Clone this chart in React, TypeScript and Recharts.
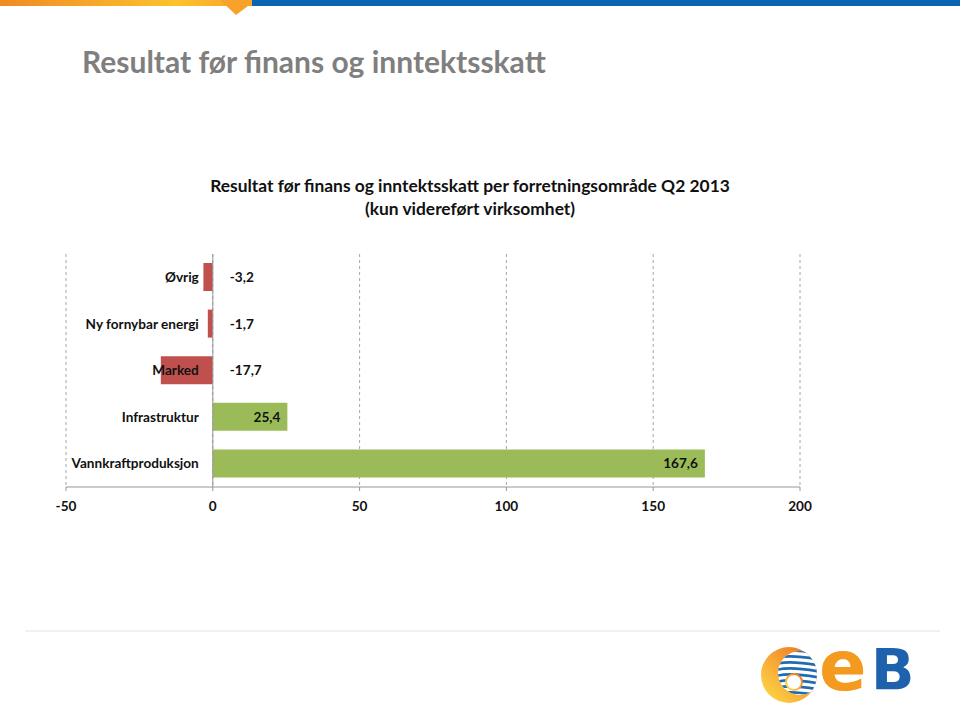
import React from "react";
import {
  BarChart,
  Bar,
  XAxis,
  YAxis,
  CartesianGrid,
  ReferenceLine,
  Cell,
  LabelList,
} from "recharts";

const categories = ["Øvrig", "Ny fornybar energi", "Marked", "Infrastruktur", "Vannkraftproduksjon"];
const values = [-3.2, -1.7, -17.7, 25.4, 167.6];
const xTicks = [-50, 0, 50, 100, 150, 200];
const slideTitle = "Resultat før finans og inntektsskatt";
const chartTitleLine1 = "Resultat før finans og inntektsskatt per forretningsområde Q2 2013";
const chartTitleLine2 = "(kun videreført virksomhet)";

const data = categories.map((name, i) => ({ name, value: values[i] }));

const FONT = "Lato, 'Open Sans', sans-serif";
const NEG = "#C0504D";
const POS = "#9BBB59";

const fmt = (v: number) => v.toFixed(1).replace(".", ",");

const renderLabel = (props: any) => {
  const { x, y, width, height, index } = props;
  const v = values[index];
  const x0 = Number(x);
  const w = Number(width);
  const left = Math.min(x0, x0 + w);
  const right = Math.max(x0, x0 + w);
  const zero = v < 0 ? right : left;
  const cy = Number(y) + Number(height) / 2;
  const style = { fontFamily: FONT, fontWeight: 700, fontSize: 13.6, fill: "#111" };
  return (
    <g>
      <text x={zero - 14} y={cy} textAnchor="end" dominantBaseline="central" style={style}>
        {categories[index]}
      </text>
      {v < 0 ? (
        <text x={zero + 17} y={cy} textAnchor="start" dominantBaseline="central" style={style}>
          {fmt(v)}
        </text>
      ) : (
        <text x={right - 7} y={cy} textAnchor="end" dominantBaseline="central" style={style}>
          {fmt(v)}
        </text>
      )}
    </g>
  );
};

export default function App() {
  return (
    <div style={{ position: "absolute", left: 0, top: 0, width: 960, height: 707, background: "#fff", overflow: "hidden" }}>
      <svg width={960} height={707} style={{ position: "absolute", left: 0, top: 0 }}>
        <defs>
          <linearGradient id="topOrange" x1="0" x2="1" y1="0" y2="0">
            <stop offset="0%" stopColor="#F08A24" />
            <stop offset="70%" stopColor="#FBC22E" />
            <stop offset="100%" stopColor="#F7A22A" />
          </linearGradient>
          <linearGradient id="logoSun" x1="0" y1="1" x2="1" y2="0">
            <stop offset="0%" stopColor="#FFE24A" />
            <stop offset="100%" stopColor="#EE6A1E" />
          </linearGradient>
          <clipPath id="logoClip">
            <circle cx={789} cy={675} r={28} />
          </clipPath>
          <clipPath id="waveClip">
            <circle cx={800} cy={673} r={22} />
          </clipPath>
        </defs>
        <rect x={0} y={0} width={252} height={6} fill="url(#topOrange)" />
        <polygon points="220,0 256,0 236,15" fill="#F7A22A" />
        <rect x={252} y={0} width={708} height={6} fill="#0B64B0" />
        <text x={82} y={73} style={{ fontFamily: FONT, fontWeight: 700, fontSize: 30, fill: "#7F7F7F" }}>
          {slideTitle}
        </text>
        <text x={470} y={192} textAnchor="middle" style={{ fontFamily: FONT, fontWeight: 700, fontSize: 17.4, fill: "#111" }}>
          {chartTitleLine1}
        </text>
        <text x={470} y={215} textAnchor="middle" style={{ fontFamily: FONT, fontWeight: 700, fontSize: 17.4, fill: "#111" }}>
          {chartTitleLine2}
        </text>
        <line x1={25} y1={631} x2={940} y2={631} stroke="#E4E4E4" strokeWidth={1} />
        <g>
          <g clipPath="url(#logoClip)">
            <rect x={760} y={646} width={58} height={58} fill="url(#logoSun)" />
            <circle cx={800} cy={673} r={22} fill="#fff" />
            <g clipPath="url(#waveClip)">
              {[0, 1, 2, 3, 4, 5, 6, 7].map((k) => (
                <path
                  key={k}
                  d={`M 776 ${652 + k * 6} q 14 -4 ${46} 2`}
                  stroke="#1F6CB5"
                  strokeWidth={2.6}
                  fill="none"
                />
              ))}
            </g>
            <circle cx={794} cy={682} r={8} fill="#fff" stroke="url(#logoSun)" strokeWidth={2} />
          </g>
          <text x={819} y={690} style={{ fontFamily: "'DejaVu Sans', sans-serif", fontWeight: 700, fontSize: 70, fill: "#F39A1F" }}>
            e
          </text>
          <text x={871} y={690} style={{ fontFamily: "'DejaVu Sans', sans-serif", fontWeight: 700, fontSize: 57, fill: "#1E62AE" }}>
            B
          </text>
        </g>
      </svg>
      <div style={{ position: "absolute", left: 0, top: 0 }}>
        <BarChart
          width={960}
          height={707}
          data={data}
          layout="vertical"
          margin={{ top: 254, right: 160, bottom: 190, left: 66 }}
          barCategoryGap={18}
        >
          <CartesianGrid horizontal={false} vertical={true} stroke="#A6A6A6" strokeDasharray="3 3" />
          <XAxis
            type="number"
            domain={[-50, 200]}
            ticks={xTicks}
            height={30}
            axisLine={{ stroke: "#969696" }}
            tickLine={{ stroke: "#969696" }}
            tickSize={4}
            tickMargin={10}
            tick={{ fontFamily: FONT, fontWeight: 700, fontSize: 13.6, fill: "#111" }}
          />
          <YAxis type="category" dataKey="name" hide />
          <ReferenceLine x={0} stroke="#969696" />
          <Bar dataKey="value" isAnimationActive={false} barSize={28}>
            {data.map((d, i) => (
              <Cell key={i} fill={d.value < 0 ? NEG : POS} />
            ))}
            <LabelList dataKey="value" content={renderLabel} />
          </Bar>
        </BarChart>
      </div>
    </div>
  );
}
